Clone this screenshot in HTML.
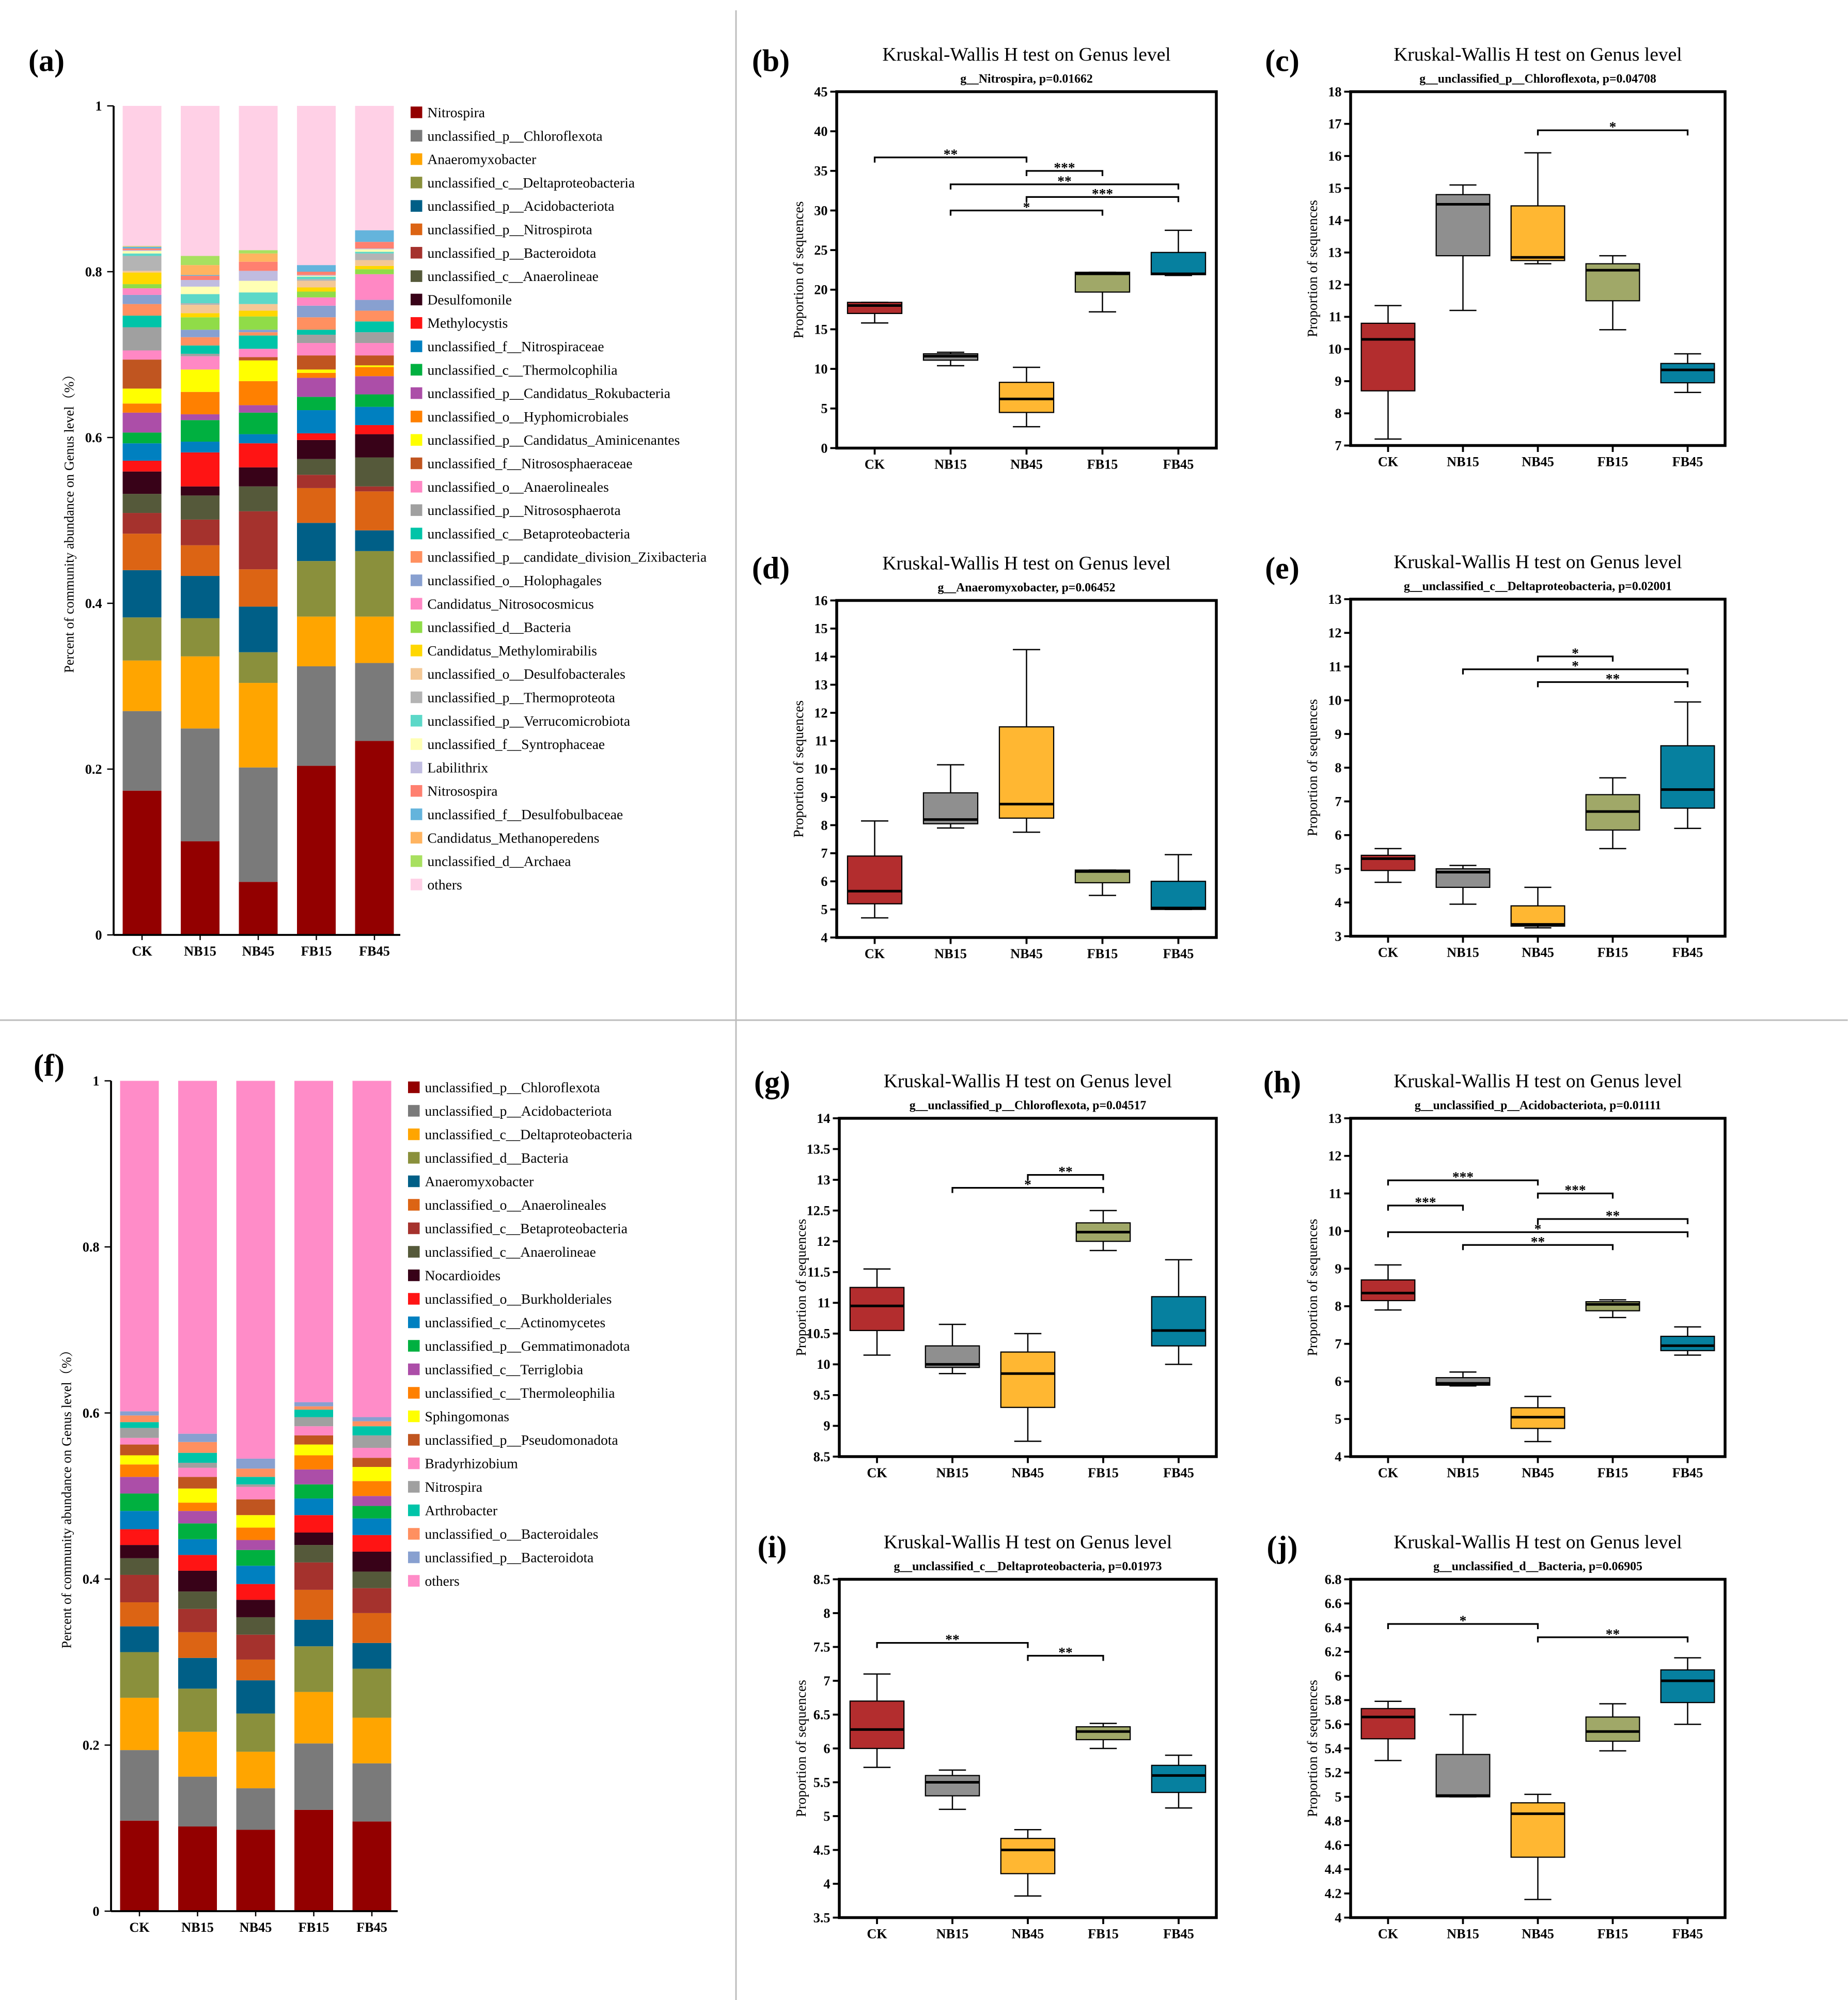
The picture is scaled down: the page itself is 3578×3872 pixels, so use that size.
<!DOCTYPE html>
<html><head><meta charset="utf-8"><style>
html,body{margin:0;padding:0;background:#fff;}
svg{display:block;font-family:"Liberation Serif",serif;}
</style></head><body>
<svg id="fig" xmlns="http://www.w3.org/2000/svg" width="3578" height="3872" viewBox="0 0 1431.2 1548.8">
<rect x="0" y="0" width="1431.2" height="1548.8" fill="#fff"/>
<line x1="570" y1="8" x2="570" y2="1560" stroke="#bdbdbd" stroke-width="1.2"/>
<line x1="0" y1="790" x2="1431" y2="790" stroke="#bdbdbd" stroke-width="1.2"/>
</svg>
<script>
const groups = ["CK","NB15","NB45","FB15","FB45"];

// ---------- panel (a) stacked data ----------
const taxaA = ["Nitrospira","unclassified_p__Chloroflexota","Anaeromyxobacter","unclassified_c__Deltaproteobacteria","unclassified_p__Acidobacteriota","unclassified_p__Nitrospirota","unclassified_p__Bacteroidota","unclassified_c__Anaerolineae","Desulfomonile","Methylocystis","unclassified_f__Nitrospiraceae","unclassified_c__Thermolcophilia","unclassified_p__Candidatus_Rokubacteria","unclassified_o__Hyphomicrobiales","unclassified_p__Candidatus_Aminicenantes","unclassified_f__Nitrososphaeraceae","unclassified_o__Anaerolineales","unclassified_p__Nitrososphaerota","unclassified_c__Betaproteobacteria","unclassified_p__candidate_division_Zixibacteria","unclassified_o__Holophagales","Candidatus_Nitrosocosmicus","unclassified_d__Bacteria","Candidatus_Methylomirabilis","unclassified_o__Desulfobacterales","unclassified_p__Thermoproteota","unclassified_p__Verrucomicrobiota","unclassified_f__Syntrophaceae","Labilithrix","Nitrosospira","unclassified_f__Desulfobulbaceae","Candidatus_Methanoperedens","unclassified_d__Archaea","others"];
const colorsA = ["#930000","#7a7a7a","#ffa500","#8a903c","#005f87","#dc6414","#a5322d","#55593a","#380218","#ff1414","#0080c0","#00b040","#ac4ea8","#ff8000","#ffff00","#c05520","#ff88c4","#a0a0a0","#00c4a8","#ff9060","#88a0d0","#ff88c4","#90dc48","#ffd700","#f4c896","#b4b4b4","#5cd8c8","#ffffb4","#c0bce0","#ff8070","#64b4dc","#ffb460","#a8e060","#ffd0e6"];
const aCK   = [.174,.096,.061,.052,.057,.044,.025,.023,.027,.013,.021,.013,.024,.011,.018,.035,.011,.028,.014,.014,.011,.008,.005,.014,.002,.018,.003,.003,.001,.002,.002,.0005,.0005,.17];
const aNB15 = [.113,.136,.087,.046,.051,.037,.031,.029,.011,.041,.013,.026,.007,.027,.027,.000,.016,.003,.010,.010,.009,.000,.015,.005,.010,.002,.011,.009,.008,.005,.001,.012,.011,.181];
const aNB45 = [.064,.138,.102,.037,.055,.045,.070,.030,.023,.029,.011,.026,.009,.029,.025,.004,.010,.000,.016,.004,.003,.000,.016,.007,.008,.000,.014,.014,.012,.011,.000,.010,.004,.174];
const aFB15 = [.204,.120,.060,.067,.046,.042,.016,.019,.023,.008,.028,.016,.023,.006,.004,.017,.015,.010,.006,.015,.014,.010,.007,.005,.008,.002,.003,.001,.001,.004,.008,.000,.000,.192];
const aFB45 = [.234,.094,.056,.079,.025,.047,.006,.035,.028,.011,.022,.015,.022,.011,.002,.012,.015,.013,.013,.013,.013,.031,.006,.004,.007,.008,.002,.003,.001,.008,.014,.000,.000,.151];

// ---------- panel (f) stacked data ----------
const taxaF = ["unclassified_p__Chloroflexota","unclassified_p__Acidobacteriota","unclassified_c__Deltaproteobacteria","unclassified_d__Bacteria","Anaeromyxobacter","unclassified_o__Anaerolineales","unclassified_c__Betaproteobacteria","unclassified_c__Anaerolineae","Nocardioides","unclassified_o__Burkholderiales","unclassified_c__Actinomycetes","unclassified_p__Gemmatimonadota","unclassified_c__Terriglobia","unclassified_c__Thermoleophilia","Sphingomonas","unclassified_p__Pseudomonadota","Bradyrhizobium","Nitrospira","Arthrobacter","unclassified_o__Bacteroidales","unclassified_p__Bacteroidota","others"];
const colorsF = ["#930000","#7a7a7a","#ffa500","#8a903c","#005f87","#dc6414","#a5322d","#55593a","#380218","#ff1414","#0080c0","#00b040","#ac4ea8","#ff8000","#ffff00","#c05520","#ff88c4","#a0a0a0","#00c4a8","#ff9060","#88a0d0","#ff8cc8"];
const fCK   = [.109,.085,.063,.055,.031,.029,.033,.020,.016,.019,.022,.021,.020,.015,.011,.013,.008,.012,.007,.008,.005,.398];
const fNB15 = [.102,.060,.054,.052,.037,.031,.028,.021,.025,.019,.019,.019,.015,.010,.017,.014,.011,.006,.012,.013,.010,.425];
const fNB45 = [.098,.050,.044,.046,.040,.025,.030,.021,.021,.019,.022,.019,.012,.015,.015,.019,.015,.003,.009,.010,.012,.455];
const fFB15 = [.122,.080,.062,.055,.032,.036,.033,.021,.015,.021,.020,.017,.018,.017,.013,.011,.011,.011,.009,.004,.005,.387];
const fFB45 = [.108,.070,.055,.059,.031,.036,.030,.020,.024,.020,.020,.015,.012,.018,.017,.011,.012,.015,.011,.006,.005,.405];
const stackTicks = ["0","0.2","0.4","0.6","0.8","1"];

// ---------- boxplot data: [min,q1,median,q3,max] per group ----------
const boxColors = ["#b32d2e","#8f8f8f","#ffb732","#a0a868","#06809f"];
const bData = [[15.8,17.0,18.0,18.4,18.4],[10.4,11.1,11.6,11.9,12.1],[2.7,4.5,6.2,8.3,10.2],[17.2,19.7,22.0,22.2,22.2],[21.8,21.9,22.0,24.7,27.5]];
const bSig = [[0,2,36.7,"**"],[2,3,35.0,"***"],[1,4,33.3,"**"],[2,4,31.7,"***"],[1,3,30.0,"*"]];
const cData = [[7.2,8.7,10.3,10.8,11.35],[11.2,12.9,14.5,14.8,15.1],[12.65,12.75,12.85,14.45,16.1],[10.6,11.5,12.45,12.65,12.9],[8.65,8.95,9.35,9.55,9.85]];
const cSig = [[2,4,16.8,"*"]];
const dData = [[4.7,5.2,5.65,6.9,8.15],[7.9,8.05,8.2,9.15,10.15],[7.75,8.25,8.75,11.5,14.25],[5.5,5.95,6.35,6.4,6.4],[5.0,5.0,5.05,6.0,6.95]];
const dSig = [];
const eData = [[4.6,4.95,5.3,5.4,5.6],[3.95,4.45,4.9,5.0,5.1],[3.25,3.3,3.35,3.9,4.45],[5.6,6.15,6.7,7.2,7.7],[6.2,6.8,7.35,8.65,9.95]];
const eSig = [[2,3,11.3,"*"],[1,4,10.92,"*"],[2,4,10.54,"**"]];
const gData = [[10.15,10.55,10.95,11.25,11.55],[9.85,9.95,10.0,10.3,10.65],[8.75,9.3,9.85,10.2,10.5],[11.85,12.0,12.15,12.3,12.5],[10.0,10.3,10.55,11.1,11.7]];
const gSig = [[2,3,13.08,"**"],[1,3,12.87,"*"]];
const hData = [[7.9,8.15,8.35,8.7,9.1],[5.88,5.9,5.95,6.1,6.25],[4.4,4.75,5.05,5.3,5.6],[7.7,7.88,8.05,8.12,8.17],[6.7,6.82,6.95,7.2,7.45]];
const hSig = [[0,2,11.35,"***"],[2,3,11.0,"***"],[0,1,10.68,"***"],[2,4,10.32,"**"],[0,4,9.97,"*"],[1,3,9.63,"**"]];
const iData = [[5.72,6.0,6.28,6.7,7.1],[5.1,5.3,5.5,5.6,5.68],[3.82,4.15,4.5,4.67,4.8],[6.0,6.13,6.25,6.32,6.37],[5.12,5.35,5.6,5.75,5.9]];
const iSig = [[0,2,7.56,"**"],[2,3,7.37,"**"]];
const jData = [[5.3,5.48,5.66,5.73,5.79],[5.0,5.0,5.01,5.35,5.68],[4.15,4.5,4.86,4.95,5.02],[5.38,5.46,5.54,5.66,5.77],[5.6,5.78,5.96,6.05,6.15]];
const jSig = [[0,2,6.43,"*"],[2,4,6.32,"**"]];

const NS="http://www.w3.org/2000/svg";
const svg=document.getElementById('fig');
function el(tag,attrs,parent){const e=document.createElementNS(NS,tag);for(const k in attrs)e.setAttribute(k,attrs[k]);(parent||svg).appendChild(e);return e;}
function txt(s,attrs,parent){const e=el('text',attrs,parent);e.textContent=s;return e;}

function panelLabel(s,x,y){
  const t=txt(s,{x:x,y:y,'font-size':24,'text-anchor':'middle','font-weight':'bold'});
  
  
}

function stacked(id,series,taxa,colors,axX,y0,y1,cx0,legX,legY0,legStep){
  const g=el('g',{});
  
  
  const ys=v=>y0-(y0-y1)*v;
  const bw=30, sp=45;
  series.forEach((vals,gi)=>{
    let cum=0;const cx=cx0+gi*sp;
    vals.forEach((v,ti)=>{
      const top=(ti===vals.length-1)?1:cum+v;
      const r=el('rect',{x:cx-bw/2,y:ys(top),width:bw,height:Math.max(0,ys(cum)-ys(top)),fill:colors[ti]},g);
      
      
      cum+=v;
    });
    el('line',{x1:cx,y1:y0,x2:cx,y2:y0+4,stroke:'#000','stroke-width':1},g);
    const t=txt(groups[gi],{x:cx,y:y0+16,'font-size':10.5,'font-weight':'bold','text-anchor':'middle'},g);
    
    
  });
  el('line',{x1:axX,y1:y1,x2:axX,y2:y0,stroke:'#000','stroke-width':1.5},g);
  el('line',{x1:axX,y1:y0,x2:cx0+4*sp+20,y2:y0,stroke:'#000','stroke-width':1.5},g);
  stackTicks.forEach((lab,i)=>{
    const y=ys(i/5);
    el('line',{x1:axX-5,y1:y,x2:axX,y2:y,stroke:'#000','stroke-width':1},g);
    const t=txt(lab,{x:axX-9,y:y+3.5,'font-size':10.5,'font-weight':'bold','text-anchor':'end'},g);
    
    
  });
  const cy=(y0+y1)/2;
  const yt=txt('Percent of community abundance on Genus level（%）',{x:axX-31,y:cy,'font-size':10.5,'text-anchor':'middle',transform:`rotate(-90 ${axX-31} ${cy})`,'font-family':'"Liberation Serif","Noto Serif CJK SC",serif'},g);
  
  
  taxa.forEach((name,i)=>{
    const y=legY0+i*legStep;
    const r=el('rect',{x:legX,y:y-4.5,width:9,height:9,fill:colors[i]},g);
    
    
    const t=txt(name,{x:legX+13,y:y+3.8,'font-size':11},g);
    
    
  });
}

function boxplot(id,fx0,fy0,fx1,fy1,ymin,ymax,step,dec,title,sub,data,sig){
  const g=el('g',{});
  
  
  const ys=v=>fy1-(fy1-fy0)*(v-ymin)/(ymax-ymin);
  const w=fx1-fx0;
  const xs=i=>fx0+w*(0.1+0.2*i);
  const bw=w*0.143, cw=w*0.072;
  const cx=(fx0+fx1)/2;
  const t1=txt(title,{x:cx,y:fy0-24,'font-size':15,'text-anchor':'middle'},g);
  
  
  const t2=txt(sub,{x:cx,y:fy0-7,'font-size':9.5,'font-weight':'bold','text-anchor':'middle'},g);
  
  
  const n=Math.round((ymax-ymin)/step);
  for(let k=0;k<=n;k++){
    const v=ymin+k*step, y=ys(v);
    el('line',{x1:fx0-5,y1:y,x2:fx0,y2:y,stroke:'#000','stroke-width':1.5},g);
    const t=txt(String(+v.toFixed(dec)),{x:fx0-7,y:y+3.5,'font-size':10.5,'font-weight':'bold','text-anchor':'end'},g);
    
    
  }
  const cyy=(fy0+fy1)/2, lx=fx0-26;
  const yl=txt('Proportion of sequences',{x:lx,y:cyy,'font-size':11,'text-anchor':'middle',transform:`rotate(-90 ${lx} ${cyy})`},g);
  
  
  data.forEach((d,i)=>{
    const x=xs(i);
    const bg=el('g',{},g);
    
    
    el('line',{x1:x,y1:ys(d[0]),x2:x,y2:ys(d[1]),stroke:'#000','stroke-width':1},bg);
    el('line',{x1:x,y1:ys(d[3]),x2:x,y2:ys(d[4]),stroke:'#000','stroke-width':1},bg);
    el('line',{x1:x-cw/2,y1:ys(d[0]),x2:x+cw/2,y2:ys(d[0]),stroke:'#000','stroke-width':1},bg);
    el('line',{x1:x-cw/2,y1:ys(d[4]),x2:x+cw/2,y2:ys(d[4]),stroke:'#000','stroke-width':1},bg);
    el('rect',{x:x-bw/2,y:ys(d[3]),width:bw,height:Math.max(0.5,ys(d[1])-ys(d[3])),fill:boxColors[i],stroke:'#000','stroke-width':0.9},bg);
    el('line',{x1:x-bw/2,y1:ys(d[2]),x2:x+bw/2,y2:ys(d[2]),stroke:'#000','stroke-width':2},bg);
    el('line',{x1:x,y1:fy1,x2:x,y2:fy1+5,stroke:'#000','stroke-width':1.5},g);
    const t=txt(groups[i],{x:x,y:fy1+16,'font-size':10.5,'font-weight':'bold','text-anchor':'middle'},g);
    
    
  });
  sig.forEach(s=>{
    const a=xs(s[0]),b=xs(s[1]),y=ys(s[2]);
    const p=el('path',{d:`M${a},${y+4}V${y}H${b}V${y+4}`,fill:'none',stroke:'#000','stroke-width':1.3},g);
    
    
    const t=txt(s[3],{x:(a+b)/2,y:y+1,'font-size':11,'font-weight':'bold','text-anchor':'middle'},g);
    
    
  });
  const fr=el('rect',{x:fx0,y:fy0,width:w,height:fy1-fy0,fill:'none',stroke:'#000','stroke-width':2.2},g);
  
  
}

stacked('a',[aCK,aNB15,aNB45,aFB15,aFB45],taxaA,colorsA,88,724,82,110,318,87,18.12);
stacked('f',[fCK,fNB15,fNB45,fFB15,fFB45],taxaF,colorsF,86,1480,837,108,316,842,18.2);

const T="Kruskal-Wallis H test on Genus level";
boxplot('b',648,71,942,347,0,45,5,0,T,"g__Nitrospira, p=0.01662",bData,bSig);
boxplot('c',1046,71,1336,345,7,18,1,0,T,"g__unclassified_p__Chloroflexota, p=0.04708",cData,cSig);
boxplot('d',648,465,942,726,4,16,1,0,T,"g__Anaeromyxobacter, p=0.06452",dData,dSig);
boxplot('e',1046,464,1336,725,3,13,1,0,T,"g__unclassified_c__Deltaproteobacteria, p=0.02001",eData,eSig);
boxplot('g',650,866,942,1128,8.5,14,0.5,1,T,"g__unclassified_p__Chloroflexota, p=0.04517",gData,gSig);
boxplot('h',1046,866,1336,1128,4,13,1,0,T,"g__unclassified_p__Acidobacteriota, p=0.01111",hData,hSig);
boxplot('i',650,1223,942,1485,3.5,8.5,0.5,1,T,"g__unclassified_c__Deltaproteobacteria, p=0.01973",iData,iSig);
boxplot('j',1046,1223,1336,1485,4,6.8,0.2,1,T,"g__unclassified_d__Bacteria, p=0.06905",jData,jSig);

panelLabel('(a)',36,55);panelLabel('(b)',597,55);panelLabel('(c)',993,55);
panelLabel('(d)',597,448);panelLabel('(e)',993,448);panelLabel('(f)',38,833);
panelLabel('(g)',598,846);panelLabel('(h)',993,846);panelLabel('(i)',598,1206);panelLabel('(j)',993,1206);
</script>
</body></html>
